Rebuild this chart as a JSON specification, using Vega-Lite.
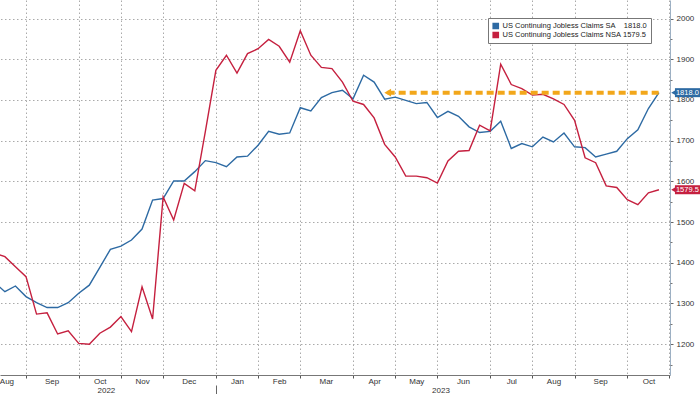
{
  "$schema": "https://vega.github.io/schema/vega-lite/v6.json",
  "width": 670,
  "height": 375,
  "autosize": {"type": "none"},
  "padding": {"left": 0, "top": 0, "right": 30, "bottom": 19},
  "background": "white",
  "config": {
    "view": {"stroke": null},
    "font": "Liberation Sans",
    "axis": {"labelFont": "Liberation Sans", "labelFontSize": 8, "labelColor": "#333", "labelFlush": false, "labelOverlap": false, "labelBound": false, "title": null}
  },
  "datasets": {
    "claims": [
      {"date": "2022-08-12", "sa": 1352, "nsa": 1424},
      {"date": "2022-08-19", "sa": 1329, "nsa": 1415},
      {"date": "2022-08-26", "sa": 1343, "nsa": 1390},
      {"date": "2022-09-02", "sa": 1317, "nsa": 1366},
      {"date": "2022-09-09", "sa": 1302, "nsa": 1274},
      {"date": "2022-09-16", "sa": 1290, "nsa": 1277},
      {"date": "2022-09-23", "sa": 1290, "nsa": 1225},
      {"date": "2022-09-30", "sa": 1302, "nsa": 1233},
      {"date": "2022-10-07", "sa": 1325, "nsa": 1202},
      {"date": "2022-10-14", "sa": 1345, "nsa": 1200},
      {"date": "2022-10-21", "sa": 1389, "nsa": 1227},
      {"date": "2022-10-28", "sa": 1433, "nsa": 1242},
      {"date": "2022-11-04", "sa": 1441, "nsa": 1268},
      {"date": "2022-11-11", "sa": 1456, "nsa": 1231},
      {"date": "2022-11-18", "sa": 1483, "nsa": 1341},
      {"date": "2022-11-25", "sa": 1554, "nsa": 1262},
      {"date": "2022-12-02", "sa": 1558, "nsa": 1562},
      {"date": "2022-12-09", "sa": 1601, "nsa": 1505},
      {"date": "2022-12-16", "sa": 1601, "nsa": 1595},
      {"date": "2022-12-23", "sa": 1624, "nsa": 1577},
      {"date": "2022-12-30", "sa": 1651, "nsa": 1722},
      {"date": "2023-01-06", "sa": 1646, "nsa": 1873},
      {"date": "2023-01-13", "sa": 1636, "nsa": 1910},
      {"date": "2023-01-20", "sa": 1660, "nsa": 1866},
      {"date": "2023-01-27", "sa": 1662, "nsa": 1914},
      {"date": "2023-02-03", "sa": 1689, "nsa": 1926},
      {"date": "2023-02-10", "sa": 1723, "nsa": 1949},
      {"date": "2023-02-17", "sa": 1716, "nsa": 1932},
      {"date": "2023-02-24", "sa": 1719, "nsa": 1893},
      {"date": "2023-03-03", "sa": 1781, "nsa": 1970},
      {"date": "2023-03-10", "sa": 1773, "nsa": 1910},
      {"date": "2023-03-17", "sa": 1806, "nsa": 1880},
      {"date": "2023-03-24", "sa": 1818, "nsa": 1877},
      {"date": "2023-03-31", "sa": 1824, "nsa": 1844},
      {"date": "2023-04-07", "sa": 1803, "nsa": 1797},
      {"date": "2023-04-14", "sa": 1861, "nsa": 1789},
      {"date": "2023-04-21", "sa": 1844, "nsa": 1756},
      {"date": "2023-04-28", "sa": 1802, "nsa": 1691},
      {"date": "2023-05-05", "sa": 1807, "nsa": 1660},
      {"date": "2023-05-12", "sa": 1799, "nsa": 1613},
      {"date": "2023-05-19", "sa": 1791, "nsa": 1613},
      {"date": "2023-05-26", "sa": 1794, "nsa": 1609},
      {"date": "2023-06-02", "sa": 1757, "nsa": 1596},
      {"date": "2023-06-09", "sa": 1772, "nsa": 1650},
      {"date": "2023-06-16", "sa": 1760, "nsa": 1674},
      {"date": "2023-06-23", "sa": 1734, "nsa": 1676},
      {"date": "2023-06-30", "sa": 1720, "nsa": 1738},
      {"date": "2023-07-07", "sa": 1723, "nsa": 1724},
      {"date": "2023-07-14", "sa": 1748, "nsa": 1888},
      {"date": "2023-07-21", "sa": 1681, "nsa": 1838},
      {"date": "2023-07-28", "sa": 1693, "nsa": 1828},
      {"date": "2023-08-04", "sa": 1685, "nsa": 1812},
      {"date": "2023-08-11", "sa": 1709, "nsa": 1814},
      {"date": "2023-08-18", "sa": 1697, "nsa": 1803},
      {"date": "2023-08-25", "sa": 1719, "nsa": 1789},
      {"date": "2023-09-01", "sa": 1685, "nsa": 1750},
      {"date": "2023-09-08", "sa": 1683, "nsa": 1658},
      {"date": "2023-09-15", "sa": 1660, "nsa": 1646},
      {"date": "2023-09-22", "sa": 1667, "nsa": 1589},
      {"date": "2023-09-29", "sa": 1674, "nsa": 1585},
      {"date": "2023-10-06", "sa": 1705, "nsa": 1555},
      {"date": "2023-10-13", "sa": 1727, "nsa": 1543},
      {"date": "2023-10-20", "sa": 1779, "nsa": 1572},
      {"date": "2023-10-27", "sa": 1818.0, "nsa": 1579.5}
    ],
    "latest": [
      {"date": "2023-10-27", "series": "sa", "value": 1818.0},
      {"date": "2023-10-27", "series": "nsa", "value": 1579.5}
    ],
    "arrow": [
      {"start": "2023-04-30", "end": "2023-10-27", "value": 1818.0}
    ]
  },
  "resolve": {"axis": {"x": "independent", "y": "independent"}},
  "layer": [
    {
      "data": {"name": "claims"},
      "transform": [{"fold": ["sa", "nsa"], "as": ["series", "value"]}],
      "mark": {"type": "line", "strokeWidth": 1.4, "clip": true},
      "encoding": {
        "x": {
          "field": "date", "type": "temporal",
          "scale": {"type": "utc", "domain": [{"year": 2022, "month": 8, "date": 15, "hours": 18, "utc": true}, {"year": 2023, "month": 11, "date": 3, "hours": 8, "utc": true}]},
          "axis": {
            "orient": "bottom",
            "values": [
              {"year": 2022, "month": 9, "date": 2, "utc": true},
              {"year": 2022, "month": 10, "date": 7, "utc": true},
              {"year": 2022, "month": 11, "date": 4, "utc": true},
              {"year": 2022, "month": 12, "date": 2, "utc": true},
              {"year": 2023, "month": 1, "date": 6, "utc": true},
              {"year": 2023, "month": 2, "date": 3, "utc": true},
              {"year": 2023, "month": 3, "date": 3, "utc": true},
              {"year": 2023, "month": 4, "date": 7, "utc": true},
              {"year": 2023, "month": 5, "date": 5, "utc": true},
              {"year": 2023, "month": 6, "date": 2, "utc": true},
              {"year": 2023, "month": 7, "date": 7, "utc": true},
              {"year": 2023, "month": 8, "date": 4, "utc": true},
              {"year": 2023, "month": 9, "date": 1, "utc": true},
              {"year": 2023, "month": 10, "date": 6, "utc": true},
              {"year": 2023, "month": 11, "date": 3, "utc": true}
            ],
            "labels": false, "ticks": true, "tickSize": 3, "tickColor": "#555",
            "domain": true, "domainColor": "#777",
            "grid": true, "gridDash": [1.5, 2.5], "gridColor": "#aaa"
          }
        },
        "y": {
          "field": "value", "type": "quantitative",
          "scale": {"domain": [1124.3, 2045.7], "nice": false, "zero": false},
          "axis": {
            "orient": "right", "format": "d",
            "values": [1200, 1300, 1400, 1500, 1600, 1700, 1800, 1900, 2000],
            "domainColor": "#9db0c3", "tickColor": "#666", "tickSize": 3, "labelPadding": 3,
            "grid": true, "gridDash": [1.5, 2.5], "gridColor": "#aaa"
          }
        },
        "color": {
          "field": "series", "type": "nominal",
          "scale": {"domain": ["sa", "nsa"], "range": ["#2d6aa3", "#c5203f"]},
          "legend": {
            "orient": "none", "legendX": 488, "legendY": 18, "direction": "vertical", "title": null,
            "symbolType": "square", "symbolSize": 12, "symbolStrokeWidth": 3.2,
            "clipHeight": 8, "rowPadding": 1,
            "labelFont": "Liberation Sans", "labelFontSize": 7.5, "labelColor": "#222", "labelLimit": 300, "labelOffset": 3,
            "padding": 4, "strokeColor": "#777", "fillColor": "white",
            "labelExpr": "datum.value === 'sa' ? 'US Continuing Jobless Claims SA\u00a0\u00a0\u00a0\u00a01818.0' : 'US Continuing Jobless Claims NSA\u00a01579.5'"
          }
        }
      }
    },
    {
      "data": {"name": "arrow"},
      "mark": {"type": "rule", "color": "#f2a71b", "strokeWidth": 4, "strokeDash": [7, 4]},
      "encoding": {
        "x": {
          "field": "start", "type": "temporal",
          "scale": {"type": "utc", "domain": [{"year": 2022, "month": 8, "date": 15, "hours": 18, "utc": true}, {"year": 2023, "month": 11, "date": 3, "hours": 8, "utc": true}]},
          "axis": {
            "orient": "bottom",
            "values": [
              {"year": 2022, "month": 8, "date": 20, "utc": true},
              {"year": 2022, "month": 9, "date": 19, "utc": true},
              {"year": 2022, "month": 10, "date": 21, "utc": true},
              {"year": 2022, "month": 11, "date": 18, "utc": true},
              {"year": 2022, "month": 12, "date": 19, "utc": true},
              {"year": 2023, "month": 1, "date": 20, "utc": true},
              {"year": 2023, "month": 2, "date": 17, "utc": true},
              {"year": 2023, "month": 3, "date": 20, "utc": true},
              {"year": 2023, "month": 4, "date": 21, "utc": true},
              {"year": 2023, "month": 5, "date": 19, "utc": true},
              {"year": 2023, "month": 6, "date": 19, "utc": true},
              {"year": 2023, "month": 7, "date": 21, "utc": true},
              {"year": 2023, "month": 8, "date": 18, "utc": true},
              {"year": 2023, "month": 9, "date": 18, "utc": true},
              {"year": 2023, "month": 10, "date": 20, "utc": true}
            ],
            "labelExpr": "utcFormat(datum.value, '%b')",
            "ticks": false, "tickSize": 0, "domain": false, "grid": false, "labelPadding": 2
          }
        },
        "x2": {"field": "end"},
        "y": {
          "field": "value", "type": "quantitative",
          "scale": {"domain": [1124.3, 2045.7], "nice": false, "zero": false},
          "axis": {
            "orient": "right",
            "values": [1150, 1250, 1350, 1450, 1550, 1650, 1750, 1850, 1950],
            "labels": false, "domain": false, "grid": false, "tickSize": 2, "tickColor": "#777"
          }
        }
      }
    },
    {
      "data": {"name": "arrow"},
      "mark": {"type": "point", "shape": "triangle-left", "filled": true, "color": "#f2a71b", "size": 60, "opacity": 1},
      "encoding": {
        "x": {
          "field": "start", "type": "temporal",
          "scale": {"type": "utc", "domain": [{"year": 2022, "month": 8, "date": 15, "hours": 18, "utc": true}, {"year": 2023, "month": 11, "date": 3, "hours": 8, "utc": true}]},
          "axis": {
            "orient": "bottom",
            "values": [
              {"year": 2022, "month": 10, "date": 25, "utc": true},
              {"year": 2023, "month": 1, "date": 6, "utc": true},
              {"year": 2023, "month": 6, "date": 4, "utc": true}
            ],
            "labelExpr": "utcmonth(datum.value) == 0 ? '' : utcFormat(datum.value, '%Y')",
            "ticks": true, "tickSize": 10, "tickColor": "#666",
            "tickOpacity": {"condition": {"test": "utcmonth(datum.value) == 0", "value": 1}, "value": 0},
            "offset": 10, "domain": false, "grid": false, "labelPadding": -9
          }
        },
        "y": {
          "field": "value", "type": "quantitative",
          "scale": {"domain": [1124.3, 2045.7], "nice": false, "zero": false},
          "axis": null
        }
      }
    },
    {
      "data": {"name": "latest"},
      "mark": {"type": "rule", "strokeWidth": 9, "xOffset": 16, "x2Offset": 45},
      "encoding": {
        "x": {"field": "date", "type": "temporal", "scale": {"type": "utc", "domain": [{"year": 2022, "month": 8, "date": 15, "hours": 18, "utc": true}, {"year": 2023, "month": 11, "date": 3, "hours": 8, "utc": true}]}, "axis": null},
        "x2": {"field": "date"},
        "y": {"field": "value", "type": "quantitative", "scale": {"domain": [1124.3, 2045.7], "nice": false, "zero": false}, "axis": null},
        "color": {"field": "series", "type": "nominal", "scale": {"domain": ["sa", "nsa"], "range": ["#2d6aa3", "#c5203f"]}, "legend": null}
      }
    },
    {
      "data": {"name": "latest"},
      "mark": {"type": "point", "shape": "triangle-left", "filled": true, "opacity": 1, "size": 40, "xOffset": 15},
      "encoding": {
        "x": {"field": "date", "type": "temporal", "scale": {"type": "utc", "domain": [{"year": 2022, "month": 8, "date": 15, "hours": 18, "utc": true}, {"year": 2023, "month": 11, "date": 3, "hours": 8, "utc": true}]}, "axis": null},
        "y": {"field": "value", "type": "quantitative", "scale": {"domain": [1124.3, 2045.7], "nice": false, "zero": false}, "axis": null},
        "color": {"field": "series", "type": "nominal", "scale": {"domain": ["sa", "nsa"], "range": ["#2d6aa3", "#c5203f"]}, "legend": null}
      }
    },
    {
      "data": {"name": "latest"},
      "mark": {"type": "text", "align": "left", "baseline": "middle", "dx": 17, "color": "white", "font": "Liberation Sans", "fontSize": 7.5},
      "encoding": {
        "x": {"field": "date", "type": "temporal", "scale": {"type": "utc", "domain": [{"year": 2022, "month": 8, "date": 15, "hours": 18, "utc": true}, {"year": 2023, "month": 11, "date": 3, "hours": 8, "utc": true}]}, "axis": null},
        "y": {"field": "value", "type": "quantitative", "scale": {"domain": [1124.3, 2045.7], "nice": false, "zero": false}, "axis": null},
        "text": {"field": "value", "type": "quantitative", "format": ".1f"}
      }
    }
  ]
}
